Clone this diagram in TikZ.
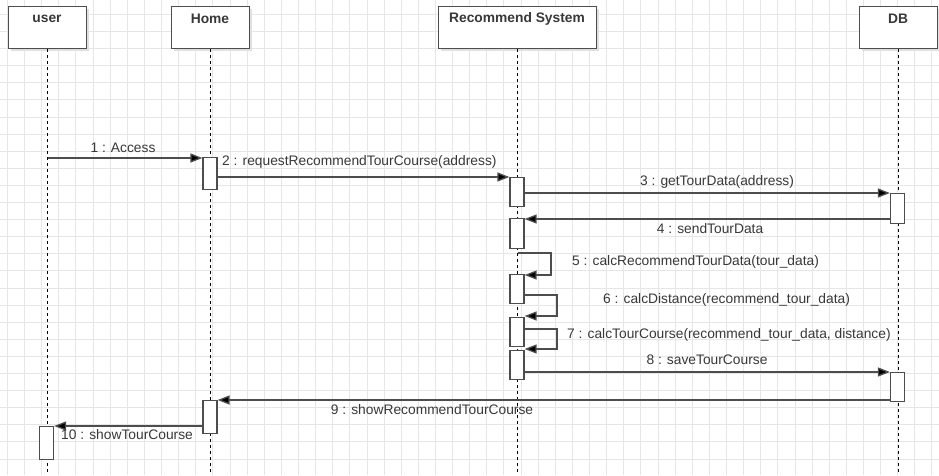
\documentclass[tikz,border=0pt]{standalone}
\usepackage{fontspec}
\setmainfont{Liberation Sans}
\usetikzlibrary{arrows.meta,calc}
\definecolor{ln}{HTML}{4D4D4D}
\definecolor{tx}{HTML}{383838}
\definecolor{gridc}{HTML}{E6E6E6}
\begin{document}
\begin{tikzpicture}[x=1pt,y=-1pt,
  objbox/.style={draw=ln,line width=1.3pt,fill=white,minimum width=78pt,minimum height=42pt,anchor=north west,inner sep=0pt},
  objlabel/.style={font=\fontsize{13.8}{15}\selectfont\bfseries,text=tx},
  act/.style={draw=ln,line width=1.2pt,fill=white,minimum width=14pt,inner sep=0pt,anchor=north},
  life/.style={draw=black,line width=0.9pt,dash pattern=on 3pt off 3pt},
  msg/.style={draw=ln,line width=1.3pt,-{Triangle[length=12pt,width=9pt,fill=black]}},
  lbl/.style={font=\fontsize{13.8}{15}\selectfont,text=tx,inner sep=0pt}
]
\useasboundingbox (0,0) rectangle (939,475);
\fill[white] (0,0) rectangle (939,475);
% grid
\foreach \i in {0,...,55} {\draw[gridc,line width=1pt] ({7.5+\i*17.12},0) -- ({7.5+\i*17.12},475);}
\foreach \j in {0,...,27} {\draw[gridc,line width=1pt] (0,{-2.7+\j*17.1}) -- (939,{-2.7+\j*17.1});}
% shadows
\foreach \x/\w in {8/78,171/78,438/158,859/78} {\fill[black!12] (\x+3,9) rectangle (\x+\w+3,51);}
% objects
\node[objbox] (user) at (8,6) {};
\node[objbox] (home) at (171,6) {};
\node[objbox,minimum width=158pt] (rs) at (438,6) {};
\node[objbox] (db) at (859,6) {};
\node[objlabel] at (47,19) {user};
\node[objlabel] at (210,19) {Home};
\node[objlabel] at (517,19) {Recommend System};
\node[objlabel] at (898,19) {DB};
% lifeline ends
\coordinate (userend) at (47.5,475);
\coordinate (homeend) at (210.5,475);
\coordinate (rsend) at (517.5,475);
\coordinate (dbend) at (898,475);
\draw[life] (user.south -| userend) -- (userend);
\draw[life] (home.south -| homeend) -- (homeend);
\draw[life] (rs.south -| rsend) -- (rsend);
\draw[life] (db.south -| dbend) -- (dbend);
% activations
\node[act,minimum height=32pt] (h1) at (210,157) {};
\node[act,minimum height=29pt] (r1) at (517,177) {};
\node[act,minimum height=30pt] (d1) at (897.5,193) {};
\node[act,minimum height=30pt] (r2) at (517,218) {};
\node[act,minimum height=29pt] (r3) at (517,274) {};
\node[act,minimum height=29pt] (r4) at (517,317) {};
\node[act,minimum height=29pt] (r5) at (517,350) {};
\node[act,minimum height=29pt] (d2) at (897.5,372) {};
\node[act,minimum height=33pt] (h2) at (210,400) {};
\node[act,minimum height=33pt] (u1) at (46.5,426) {};
% messages
\coordinate (m1s) at (47.5,158);
\draw[msg] (m1s) -- (m1s -| h1.west);
\node[lbl] (l1) at (123,148) {1 : Access};
\coordinate (m2) at (0,177);
\draw[msg] (h1.east |- m2) -- (r1.west |- m2);
\node[lbl,anchor=west] (l2) at (222,162) {2 : requestRecommendTourCourse(address)};
\coordinate (m3) at (0,193);
\draw[msg] (r1.east |- m3) -- (d1.west |- m3);
\node[lbl] (l3) at (717,182) {3 : getTourData(address)};
\coordinate (m4) at (0,219);
\draw[msg] (d1.west |- m4) -- (r2.east |- m4);
\node[lbl] (l4) at (710,229) {4 : sendTourData};
\coordinate (m5s) at (517.5,253);
\coordinate (m5e) at (0,275);
\draw[msg] (m5s) -- (551,253) -- (551,275) -- (r3.east |- m5e);
\node[lbl,anchor=west] (l5) at (572,262) {5 : calcRecommendTourData(tour\_data)};
\coordinate (m6s) at (0,295);
\coordinate (m6e) at (0,316);
\draw[msg] (r3.east |- m6s) -- (557,295) -- (557,316) -- (r4.east |- m6e);
\node[lbl,anchor=west] (l6) at (603,300) {6 : calcDistance(recommend\_tour\_data)};
\coordinate (m7s) at (0,329);
\coordinate (m7e) at (0,349);
\draw[msg] (r4.east |- m7s) -- (557,329) -- (557,349) -- (r5.east |- m7e);
\node[lbl,anchor=west] (l7) at (567,335) {7 : calcTourCourse(recommend\_tour\_data, distance)};
\coordinate (m8) at (0,372);
\draw[msg] (r5.east |- m8) -- (d2.west |- m8);
\node[lbl] (l8) at (707,360) {8 : saveTourCourse};
\coordinate (m9) at (0,400);
\draw[msg] (d2.west |- m9) -- (h2.east |- m9);
\node[lbl] (l9) at (432,410) {9 : showRecommendTourCourse};
\coordinate (m10) at (0,426);
\draw[msg] (h2.west |- m10) -- (u1.east |- m10);
\node[lbl,anchor=west] (l10) at (61,435) {10 : showTourCourse};
\end{tikzpicture}
\end{document}
